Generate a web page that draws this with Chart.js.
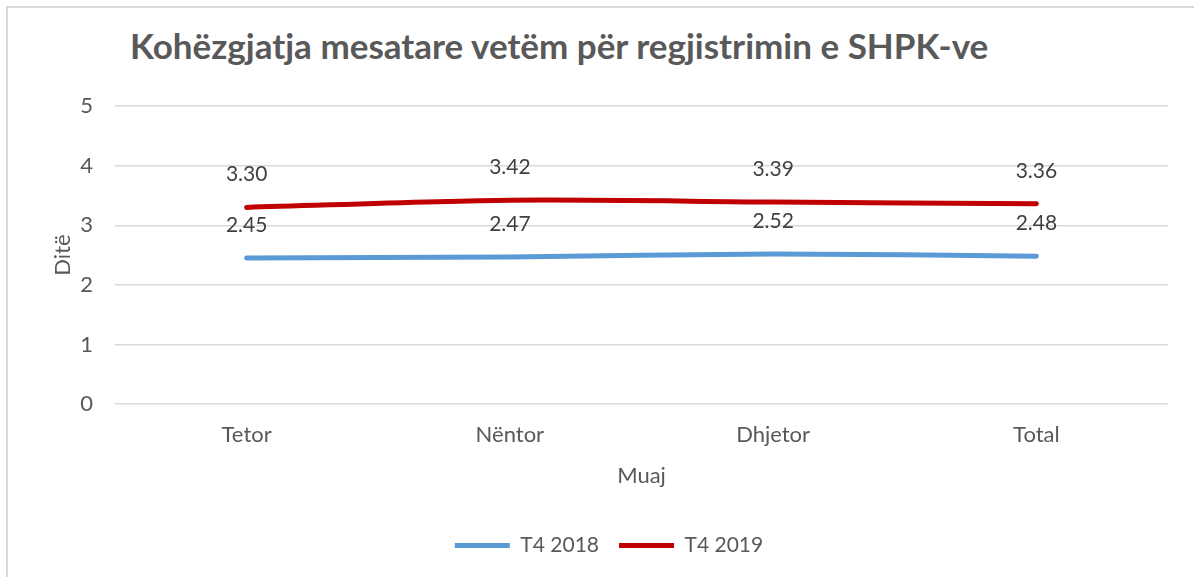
<!DOCTYPE html>
<html lang="sq">
<head>
  <meta charset="UTF-8" />
  <title>Kohëzgjatja mesatare</title>
  <style>
    html, body {
      margin: 0;
      padding: 0;
      width: 1194px;
      height: 577px;
      overflow: hidden;
      background: #fff;
      font-family: Lato, 'Open Sans', sans-serif;
    }
    .frame {
      position: absolute;
      left: 6px;
      top: 6px;
      width: 1220px;
      height: 620px;
      border: 2px solid #d9d9d9;
      box-sizing: border-box;
    }
    h1 {
      position: absolute;
      left: 130px;
      top: 24px;
      margin: 0;
      font-size: 35px;
      line-height: 1.2;
      font-weight: 700;
      color: #595959;
      white-space: nowrap;
    }
    .wrap {
      position: absolute;
      left: 0;
      top: 0;
      width: 1194px;
      height: 577px;
    }
  </style>
</head>
<body>
  <div class="frame"></div>
  <h1>Kohëzgjatja mesatare vetëm për regjistrimin e SHPK-ve</h1>
  <div class="wrap"><canvas id="chart"></canvas></div>

  <script src="https://cdn.jsdelivr.net/npm/chart.js"></script>
  <script>
    const months = ['Tetor', 'Nëntor', 'Dhjetor', 'Total'];
    const t4_2018 = [2.45, 2.47, 2.52, 2.48];
    const t4_2019 = [3.30, 3.42, 3.39, 3.36];

    const font = 'Lato, "Open Sans", sans-serif';

    // value labels above each point
    const valueLabels = {
      id: 'valueLabels',
      afterDatasetsDraw(chart) {
        const ctx = chart.ctx;
        ctx.save();
        ctx.font = '21px ' + font;
        ctx.fillStyle = '#404040';
        ctx.textAlign = 'center';
        ctx.textBaseline = 'middle';
        chart.data.datasets.forEach((ds, i) => {
          chart.getDatasetMeta(i).data.forEach((pt, j) => {
            ctx.fillText(ds.data[j].toFixed(2), pt.x, pt.y - 33);
          });
        });
        ctx.restore();
      }
    };

    const ctx = document.getElementById('chart').getContext('2d');
    new Chart(ctx, {
      type: 'line',
      data: {
        labels: months,
        datasets: [
          {
            label: 'T4 2018',
            data: t4_2018,
            borderColor: '#5b9bd5',
            backgroundColor: '#5b9bd5',
            borderWidth: 5,
            borderCapStyle: 'round',
            pointStyle: 'line',
            pointRadius: 0,
            tension: 0.3
          },
          {
            label: 'T4 2019',
            data: t4_2019,
            borderColor: '#c00000',
            backgroundColor: '#c00000',
            borderWidth: 5,
            borderCapStyle: 'round',
            pointStyle: 'line',
            pointRadius: 0,
            tension: 0.3
          }
        ]
      },
      options: {
        responsive: true,
        maintainAspectRatio: false,
        animation: false,
        layout: {
          padding: { left: 50, right: 26, top: 106, bottom: 11 }
        },
        plugins: {
          tooltip: { enabled: false },
          legend: {
            position: 'bottom',
            labels: {
              color: '#595959',
              font: { family: font, size: 21 },
              usePointStyle: true,
              pointStyleWidth: 55,
              padding: 20
            }
          }
        },
        scales: {
          x: {
            offset: true,
            grid: { display: false },
            border: { display: false },
            ticks: {
              color: '#595959',
              font: { family: font, size: 22 },
              padding: 10
            },
            title: {
              display: true,
              text: 'Muaj',
              color: '#595959',
              font: { family: font, size: 22 },
              padding: { top: 4, bottom: 26 }
            }
          },
          y: {
            min: 0,
            max: 5,
            afterFit(scale) { scale.width = 65; },
            grid: { color: '#d9d9d9', lineWidth: 1.5, drawTicks: false },
            border: { display: false },
            ticks: {
              stepSize: 1,
              color: '#595959',
              font: { family: font, size: 22 },
              padding: 22
            },
            title: {
              display: true,
              text: 'Ditë',
              color: '#595959',
              font: { family: font, size: 22 },
              padding: { top: 0, bottom: 0 }
            }
          }
        }
      },
      plugins: [valueLabels]
    });
  </script>
</body>
</html>
